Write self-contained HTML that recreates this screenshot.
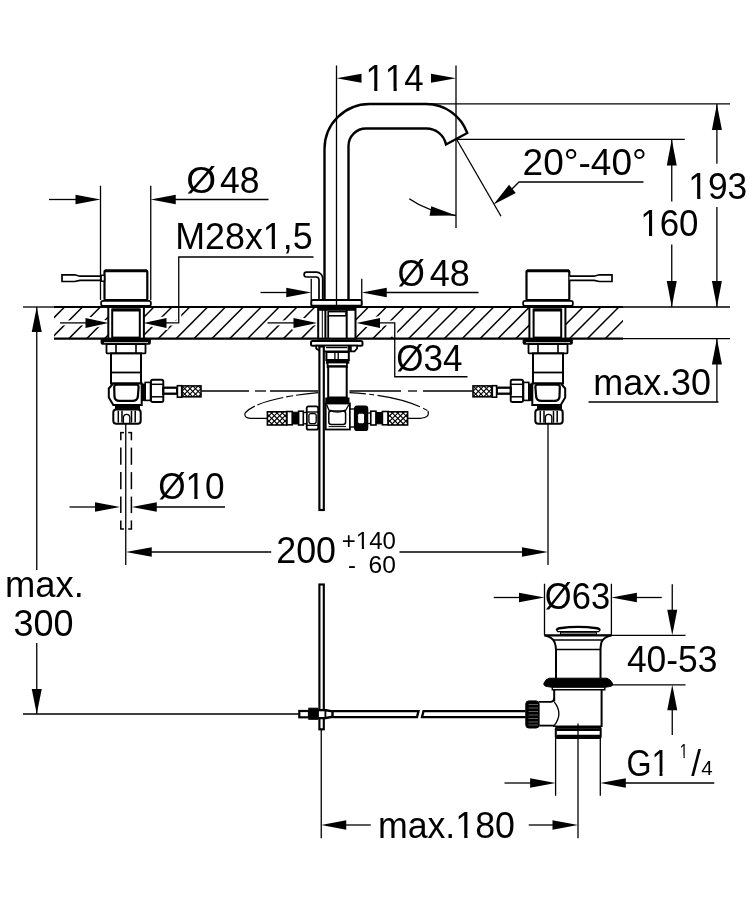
<!DOCTYPE html>
<html><head><meta charset="utf-8"><title>Dimension drawing</title>
<style>
html,body{margin:0;padding:0;background:#fff;}
body{width:751px;height:900px;overflow:hidden;font-family:"Liberation Sans",sans-serif;}
svg{display:block;}
svg line,svg polyline,svg path,svg rect,svg ellipse,svg circle{stroke:#000;}
svg text{font-family:"Liberation Sans",sans-serif;fill:#000;stroke:none;font-kerning:none;}
</style></head><body>
<svg width="751" height="900" viewBox="0 0 751 900">
<rect x="0" y="0" width="751" height="900" fill="#fff" stroke="none" style="stroke:none"/>
<g style="filter:grayscale(1)">
<defs><clipPath id="slabclip"><rect x="54.0" y="307.0" width="569.0" height="31.600000000000023"/></clipPath></defs>
<g clip-path="url(#slabclip)">
<line x1="10.939999999999998" y1="307.0" x2="-20.46" y2="338.6" stroke-width="1.45" />
<line x1="28.82000000000002" y1="307.0" x2="-2.579999999999977" y2="338.6" stroke-width="1.45" />
<line x1="46.70000000000002" y1="307.0" x2="15.300000000000018" y2="338.6" stroke-width="1.45" />
<line x1="64.58000000000001" y1="307.0" x2="33.180000000000014" y2="338.6" stroke-width="1.45" />
<line x1="82.46000000000001" y1="307.0" x2="51.06000000000001" y2="338.6" stroke-width="1.45" />
<line x1="100.34" y1="307.0" x2="68.94" y2="338.6" stroke-width="1.45" />
<line x1="118.22" y1="307.0" x2="86.82" y2="338.6" stroke-width="1.45" />
<line x1="136.10000000000002" y1="307.0" x2="104.70000000000002" y2="338.6" stroke-width="1.45" />
<line x1="153.98000000000002" y1="307.0" x2="122.58000000000001" y2="338.6" stroke-width="1.45" />
<line x1="171.86" y1="307.0" x2="140.46" y2="338.6" stroke-width="1.45" />
<line x1="189.74" y1="307.0" x2="158.34" y2="338.6" stroke-width="1.45" />
<line x1="207.62" y1="307.0" x2="176.22" y2="338.6" stroke-width="1.45" />
<line x1="225.5" y1="307.0" x2="194.1" y2="338.6" stroke-width="1.45" />
<line x1="243.38" y1="307.0" x2="211.98" y2="338.6" stroke-width="1.45" />
<line x1="261.26" y1="307.0" x2="229.85999999999999" y2="338.6" stroke-width="1.45" />
<line x1="279.14" y1="307.0" x2="247.73999999999998" y2="338.6" stroke-width="1.45" />
<line x1="297.02" y1="307.0" x2="265.62" y2="338.6" stroke-width="1.45" />
<line x1="314.9" y1="307.0" x2="283.5" y2="338.6" stroke-width="1.45" />
<line x1="332.78" y1="307.0" x2="301.38" y2="338.6" stroke-width="1.45" />
<line x1="350.65999999999997" y1="307.0" x2="319.26" y2="338.6" stroke-width="1.45" />
<line x1="368.53999999999996" y1="307.0" x2="337.14" y2="338.6" stroke-width="1.45" />
<line x1="386.41999999999996" y1="307.0" x2="355.02" y2="338.6" stroke-width="1.45" />
<line x1="404.29999999999995" y1="307.0" x2="372.9" y2="338.6" stroke-width="1.45" />
<line x1="422.17999999999995" y1="307.0" x2="390.78" y2="338.6" stroke-width="1.45" />
<line x1="440.06" y1="307.0" x2="408.66" y2="338.6" stroke-width="1.45" />
<line x1="457.94" y1="307.0" x2="426.54" y2="338.6" stroke-width="1.45" />
<line x1="475.82" y1="307.0" x2="444.42" y2="338.6" stroke-width="1.45" />
<line x1="493.7" y1="307.0" x2="462.3" y2="338.6" stroke-width="1.45" />
<line x1="511.58" y1="307.0" x2="480.18" y2="338.6" stroke-width="1.45" />
<line x1="529.46" y1="307.0" x2="498.06000000000006" y2="338.6" stroke-width="1.45" />
<line x1="547.3399999999999" y1="307.0" x2="515.9399999999999" y2="338.6" stroke-width="1.45" />
<line x1="565.22" y1="307.0" x2="533.82" y2="338.6" stroke-width="1.45" />
<line x1="583.0999999999999" y1="307.0" x2="551.6999999999999" y2="338.6" stroke-width="1.45" />
<line x1="600.98" y1="307.0" x2="569.58" y2="338.6" stroke-width="1.45" />
<line x1="618.8599999999999" y1="307.0" x2="587.4599999999999" y2="338.6" stroke-width="1.45" />
<line x1="636.74" y1="307.0" x2="605.34" y2="338.6" stroke-width="1.45" />
</g>
<polyline points="60,322.9 86,322.9" fill="none" stroke-width="5" style="stroke:#fff" stroke-linejoin="round"/>
<polyline points="146,322.9 178.75,322.9 178.75,309.2" fill="none" stroke-width="5" style="stroke:#fff" stroke-linejoin="round"/>
<polyline points="267.5,322.9 295,322.9" fill="none" stroke-width="5" style="stroke:#fff" stroke-linejoin="round"/>
<polyline points="357,322.9 394.75,322.9 394.75,337" fill="none" stroke-width="5" style="stroke:#fff" stroke-linejoin="round"/>
<polygon points="108.50,322.90 85.50,327.90 85.50,317.90" fill="#fff" stroke-width="4" style="stroke:#fff" stroke-linejoin="round"/>
<polygon points="143.50,322.90 166.50,317.90 166.50,327.90" fill="#fff" stroke-width="4" style="stroke:#fff" stroke-linejoin="round"/>
<polygon points="317.00,322.90 293.50,327.90 293.50,317.90" fill="#fff" stroke-width="4" style="stroke:#fff" stroke-linejoin="round"/>
<polygon points="356.50,322.90 380.00,317.90 380.00,327.90" fill="#fff" stroke-width="4" style="stroke:#fff" stroke-linejoin="round"/>
<line x1="54.0" y1="307.0" x2="623.0" y2="307.0" stroke-width="2.2" />
<line x1="54.0" y1="338.6" x2="623.0" y2="338.6" stroke-width="2.2" />
<line x1="23" y1="307.0" x2="54.0" y2="307.0" stroke-width="1.3" />
<line x1="623.0" y1="307.0" x2="730" y2="307.0" stroke-width="1.3" />
<line x1="623.0" y1="338.6" x2="730" y2="338.6" stroke-width="1.3" />
<path d="M324.5,300 L324.5,149 A45,45 0 0 1 369.5,104 L426,104 A43.5,43.5 0 0 1 467.25,133 L446,144.5 A20,20 0 0 0 426,128.5 L366,128.5 A17.5,17.5 0 0 0 348.5,146 L348.5,300" stroke-width="2.4" fill="none" />
<rect x="311.25" y="300" width="50.5" height="5.800000000000011" rx="1.5" stroke-width="2" fill="#fff" />
<path d="M306.5,272.2 L316.5,272.2 A6.2,6.2 0 0 1 322.7,278.4 L322.7,300 M306.5,277 L316,277 A3,3 0 0 1 319,280 L319,300 M306.5,272.2 A2.4,2.4 0 0 0 306.5,277" stroke-width="1.7" fill="none" />
<line x1="336.5" y1="65.5" x2="336.5" y2="310" stroke-width="1.3" />
<line x1="456" y1="65.5" x2="456" y2="228" stroke-width="1.3" />
<polygon points="336.50,78.25 361.50,73.65 361.50,82.85" fill="#000" stroke="none"/>
<polygon points="456.00,78.25 431.00,82.85 431.00,73.65" fill="#000" stroke="none"/>
<text x="365.49" y="91.0" font-size="36.8" textLength="58.11" lengthAdjust="spacingAndGlyphs" >114</text>
<rect x="367.02" y="87.65" width="7.18" height="4.15" fill="#fff" style="stroke:none"/>
<rect x="377.37" y="87.65" width="6.99" height="4.15" fill="#fff" style="stroke:none"/>
<rect x="386.39" y="87.65" width="7.18" height="4.15" fill="#fff" style="stroke:none"/>
<rect x="396.75" y="87.65" width="6.99" height="4.15" fill="#fff" style="stroke:none"/>
<line x1="428" y1="103.9" x2="730" y2="103.9" stroke-width="1.3" />
<line x1="457" y1="139.4" x2="684.75" y2="139.4" stroke-width="1.3" />
<line x1="716.9" y1="103.9" x2="716.9" y2="163.75" stroke-width="1.3" />
<line x1="716.9" y1="207" x2="716.9" y2="307" stroke-width="1.3" />
<polygon points="716.90,103.90 721.90,129.90 711.90,129.90" fill="#000" stroke="none"/>
<polygon points="716.90,307.00 711.90,281.00 721.90,281.00" fill="#000" stroke="none"/>
<line x1="671.75" y1="139.4" x2="671.75" y2="201.5" stroke-width="1.3" />
<line x1="671.75" y1="244.5" x2="671.75" y2="307" stroke-width="1.3" />
<polygon points="671.75,139.40 676.75,165.40 666.75,165.40" fill="#000" stroke="none"/>
<polygon points="671.75,307.00 666.75,281.00 676.75,281.00" fill="#000" stroke="none"/>
<text x="688.35" y="199.2" font-size="36.8" textLength="58.89" lengthAdjust="spacingAndGlyphs" >193</text>
<rect x="689.90" y="195.85" width="7.27" height="4.15" fill="#fff" style="stroke:none"/>
<rect x="700.40" y="195.85" width="7.08" height="4.15" fill="#fff" style="stroke:none"/>
<text x="640.29" y="236.2" font-size="36.8" textLength="58.16" lengthAdjust="spacingAndGlyphs" >160</text>
<rect x="641.82" y="232.85" width="7.18" height="4.15" fill="#fff" style="stroke:none"/>
<rect x="652.18" y="232.85" width="7.00" height="4.15" fill="#fff" style="stroke:none"/>
<line x1="457" y1="140" x2="501" y2="216.25" stroke-width="1.3" />
<polyline points="512,189 519,182 643.5,182" stroke-width="1.3" fill="none" />
<polygon points="493.50,204.50 509.07,184.87 515.74,192.97" fill="#000" stroke="none"/>
<text x="522.55" y="175.0" font-size="36.8" textLength="124.27" lengthAdjust="spacingAndGlyphs" >20°-40°</text>
<path d="M409.25,198.75 Q428,212 456,215.5" stroke-width="1.5" fill="none" />
<polygon points="456.00,215.50 429.56,215.71 431.23,206.26" fill="#000" stroke="none"/>
<line x1="716.9" y1="338.6" x2="716.9" y2="402.0" stroke-width="1.3" />
<polygon points="716.90,338.60 721.90,364.60 711.90,364.60" fill="#000" stroke="none"/>
<line x1="588.5" y1="402.0" x2="718.5" y2="402.0" stroke-width="1.3" />
<text x="593.28" y="394.6" font-size="36.8" textLength="117.71" lengthAdjust="spacingAndGlyphs" >max.30</text>
<rect x="104.5" y="270.6" width="42.80000000000001" height="29.399999999999977" rx="1" stroke-width="2.2" fill="#fff" />
<line x1="105" y1="270.9" x2="147" y2="270.9" stroke-width="2.8" />
<rect x="101.1" y="300.9" width="49.80000000000001" height="5.0" rx="2" stroke-width="1.7" fill="#fff" />
<path d="M104.5,276.2 L79.85,276.2 L74.75,274.8 L62,274.8 L62,281.5 L74.75,281.5 L79.85,280.3 L104.5,280.3" stroke-width="1.7" fill="#fff" />
<rect x="101.1" y="275.3" width="3.4000000000000057" height="5.899999999999977" rx="0" stroke-width="1.5" fill="#fff" />
<rect x="526.5" y="270.6" width="42.799999999999955" height="29.399999999999977" rx="1" stroke-width="2.2" fill="#fff" />
<line x1="527" y1="270.9" x2="569" y2="270.9" stroke-width="2.8" />
<rect x="523.1" y="300.9" width="49.799999999999955" height="5.0" rx="2" stroke-width="1.7" fill="#fff" />
<path d="M569.5,276.2 L594.15,276.2 L599.25,274.8 L612,274.8 L612,281.5 L599.25,281.5 L594.15,280.3 L569.5,280.3" stroke-width="1.7" fill="#fff" />
<line x1="100.5" y1="185.75" x2="100.5" y2="300" stroke-width="1.3" />
<line x1="150.75" y1="185.75" x2="150.75" y2="300" stroke-width="1.3" />
<line x1="49" y1="199.5" x2="80" y2="199.5" stroke-width="1.3" />
<polygon points="100.50,199.50 75.50,204.30 75.50,194.70" fill="#000" stroke="none"/>
<polygon points="150.75,199.50 175.75,194.70 175.75,204.30" fill="#000" stroke="none"/>
<line x1="170" y1="199.5" x2="268.5" y2="199.5" stroke-width="1.3" />
<text x="186.16" y="193.3" font-size="36.8" textLength="29.90" lengthAdjust="spacingAndGlyphs" >Ø</text>
<text x="220.10" y="193.3" font-size="36.8" textLength="39.55" lengthAdjust="spacingAndGlyphs" >48</text>
<line x1="60" y1="322.9" x2="90" y2="322.9" stroke-width="1.3" />
<polygon points="108.50,322.90 85.50,327.90 85.50,317.90" fill="#000" stroke="none"/>
<polygon points="143.50,322.90 166.50,317.90 166.50,327.90" fill="#000" stroke="none"/>
<polyline points="160,322.9 178.75,322.9 178.75,257 313.5,257" stroke-width="1.3" fill="none" />
<text x="175.25" y="249.1" font-size="36.8" textLength="137.33" lengthAdjust="spacingAndGlyphs" >M28x1,5</text>
<rect x="264.37" y="245.75" width="7.38" height="4.15" fill="#fff" style="stroke:none"/>
<rect x="275.02" y="245.75" width="7.19" height="4.15" fill="#fff" style="stroke:none"/>
<line x1="311.25" y1="278.75" x2="311.25" y2="300" stroke-width="1.3" />
<line x1="361.75" y1="278.75" x2="361.75" y2="300" stroke-width="1.3" />
<line x1="260.5" y1="292.5" x2="290" y2="292.5" stroke-width="1.3" />
<polygon points="311.25,292.50 286.25,297.30 286.25,287.70" fill="#000" stroke="none"/>
<polygon points="361.75,292.50 386.75,287.70 386.75,297.30" fill="#000" stroke="none"/>
<line x1="380" y1="292.5" x2="478.5" y2="292.5" stroke-width="1.3" />
<text x="397.38" y="286.1" font-size="36.8" textLength="27.36" lengthAdjust="spacingAndGlyphs" >Ø</text>
<text x="429.69" y="286.1" font-size="36.8" textLength="40.19" lengthAdjust="spacingAndGlyphs" >48</text>
<line x1="267.5" y1="322.9" x2="297" y2="322.9" stroke-width="1.3" />
<polygon points="317.00,322.90 293.50,327.90 293.50,317.90" fill="#000" stroke="none"/>
<polygon points="356.50,322.90 380.00,317.90 380.00,327.90" fill="#000" stroke="none"/>
<polyline points="375,322.9 394.75,322.9 394.75,376.75 467.5,376.75" stroke-width="1.3" fill="none" />
<text x="396.29" y="370.9" font-size="36.8" textLength="66.22" lengthAdjust="spacingAndGlyphs" >Ø34</text>
<line x1="36.75" y1="307" x2="36.75" y2="570" stroke-width="1.3" />
<line x1="36.75" y1="643" x2="36.75" y2="714" stroke-width="1.3" />
<polygon points="36.75,307.00 41.75,332.00 31.75,332.00" fill="#000" stroke="none"/>
<polygon points="36.75,714.00 31.75,689.00 41.75,689.00" fill="#000" stroke="none"/>
<line x1="23" y1="714" x2="298.75" y2="714" stroke-width="1.3" />
<text x="4.94" y="596.8" font-size="36.8" textLength="78.84" lengthAdjust="spacingAndGlyphs" >max.</text>
<text x="13.55" y="636.0" font-size="36.8" textLength="59.94" lengthAdjust="spacingAndGlyphs" >300</text>
<line x1="69.5" y1="507.0" x2="100" y2="507.0" stroke-width="1.3" />
<polygon points="120.00,507.00 95.00,511.80 95.00,502.20" fill="#000" stroke="none"/>
<polygon points="131.75,507.00 156.75,502.20 156.75,511.80" fill="#000" stroke="none"/>
<line x1="150" y1="507.0" x2="225" y2="507.0" stroke-width="1.3" />
<text x="158.18" y="498.9" font-size="36.8" textLength="66.48" lengthAdjust="spacingAndGlyphs" >Ø10</text>
<rect x="187.08" y="495.55" width="7.25" height="4.15" fill="#fff" style="stroke:none"/>
<rect x="197.54" y="495.55" width="7.06" height="4.15" fill="#fff" style="stroke:none"/>
<line x1="120.8" y1="432.6" x2="120.8" y2="440.3" stroke-width="1.5" />
<line x1="120.8" y1="447.6" x2="120.8" y2="464.8" stroke-width="1.5" />
<line x1="120.8" y1="472.1" x2="120.8" y2="489.2" stroke-width="1.5" />
<line x1="120.8" y1="496.6" x2="120.8" y2="513.1" stroke-width="1.5" />
<line x1="120.8" y1="520.4" x2="120.8" y2="529" stroke-width="1.5" />
<line x1="131.4" y1="432.6" x2="131.4" y2="440.3" stroke-width="1.5" />
<line x1="131.4" y1="447.6" x2="131.4" y2="464.8" stroke-width="1.5" />
<line x1="131.4" y1="472.1" x2="131.4" y2="489.2" stroke-width="1.5" />
<line x1="131.4" y1="496.6" x2="131.4" y2="513.1" stroke-width="1.5" />
<line x1="131.4" y1="520.4" x2="131.4" y2="529" stroke-width="1.5" />
<line x1="120.1" y1="432.6" x2="124" y2="432.6" stroke-width="1.5" />
<line x1="128.2" y1="432.6" x2="132.1" y2="432.6" stroke-width="1.5" />
<line x1="120.1" y1="529" x2="124" y2="529" stroke-width="1.5" />
<line x1="128.2" y1="529" x2="132.1" y2="529" stroke-width="1.5" />
<line x1="125.75" y1="423" x2="125.75" y2="565" stroke-width="1.3" />
<line x1="548" y1="423" x2="548" y2="565" stroke-width="1.3" />
<polygon points="125.75,552.00 151.75,547.20 151.75,556.80" fill="#000" stroke="none"/>
<line x1="145" y1="552.0" x2="271.25" y2="552.0" stroke-width="1.3" />
<line x1="399.5" y1="552.0" x2="530" y2="552.0" stroke-width="1.3" />
<polygon points="548.00,552.00 522.00,556.80 522.00,547.20" fill="#000" stroke="none"/>
<text x="276.21" y="563.4" font-size="36.8" textLength="59.78" lengthAdjust="spacingAndGlyphs" >200</text>
<text x="341.80" y="548.7" font-size="23.2" textLength="54.13" lengthAdjust="spacingAndGlyphs" >+140</text>
<rect x="356.89" y="546.37" width="4.95" height="3.13" fill="#fff" style="stroke:none"/>
<rect x="364.03" y="546.37" width="4.82" height="3.13" fill="#fff" style="stroke:none"/>
<text x="348.02" y="572.5" font-size="23.2" textLength="7.96" lengthAdjust="spacingAndGlyphs" >-</text>
<text x="368.57" y="572.5" font-size="23.2" textLength="27.38" lengthAdjust="spacingAndGlyphs" >60</text>
<rect x="108.3" y="307.0" width="35.60000000000001" height="31.600000000000023" rx="0" stroke-width="2.0" fill="#fff" />
<rect x="112.2" y="309.5" width="27.60000000000001" height="28.100000000000023" rx="0" stroke-width="2.0" fill="#fff" />
<line x1="112.2" y1="310.0" x2="139.8" y2="310.0" stroke-width="3.0" />
<rect x="101.5" y="339.2" width="48.5" height="4.600000000000023" rx="1" stroke-width="1.8" fill="#000" />
<line x1="104" y1="342.6" x2="148" y2="342.6" stroke-width="0.8" style="stroke:#fff"/>
<rect x="106.5" y="344" width="39.0" height="9.399999999999977" rx="1" stroke-width="1.8" fill="#fff" />
<line x1="116" y1="344" x2="116" y2="353.4" stroke-width="1.6" />
<line x1="136" y1="344" x2="136" y2="353.4" stroke-width="1.6" />
<rect x="111" y="353.4" width="30" height="30.100000000000023" rx="0" stroke-width="2.0" fill="#fff" />
<line x1="111" y1="372.5" x2="141" y2="372.5" stroke-width="1.8" />
<path d="M113.3,383.4 L141.7,383.4 L141.7,404.9 L113.3,404.9 L108.8,397.5 L108.8,388.5 Z" stroke-width="2.0" fill="#fff" />
<path d="M116.8,384.6 L136.5,384.6 Q138.6,384.6 138.6,387 L137.8,397 Q137.2,400.8 132.5,400.8 L119.5,400.8 Q115,400.8 114.5,397 L114.2,387 Q114.2,384.6 116.8,384.6 Z" stroke-width="2.2" fill="none" />
<rect x="141.7" y="384" width="2.700000000000017" height="16.600000000000023" rx="0" stroke-width="1" fill="#000" />
<rect x="145.2" y="382.4" width="5.300000000000011" height="18.0" rx="0" stroke-width="1.6" fill="#fff" />
<rect x="151" y="379.8" width="12.300000000000011" height="22.19999999999999" rx="1.8" stroke-width="1.9" fill="#fff" />
<line x1="151" y1="384.3" x2="163.3" y2="384.3" stroke-width="1.5" />
<line x1="151" y1="396.8" x2="163.3" y2="396.8" stroke-width="1.5" />
<rect x="163.3" y="387.7" width="13.899999999999977" height="6.0" rx="0" stroke-width="2.3" fill="#fff" />
<rect x="177.4" y="385.7" width="4.299999999999983" height="11.5" rx="0" stroke-width="1.6" fill="#fff" />
<defs><clipPath id="b182"><rect x="182" y="385.9" width="19" height="10.900000000000034"/></clipPath></defs>
<g clip-path="url(#b182)">
<line x1="171.09999999999997" y1="385.9" x2="182.0" y2="396.8" stroke-width="1.15" />
<line x1="182.0" y1="385.9" x2="171.09999999999997" y2="396.8" stroke-width="1.15" />
<line x1="176.49999999999997" y1="385.9" x2="187.4" y2="396.8" stroke-width="1.15" />
<line x1="187.4" y1="385.9" x2="176.49999999999997" y2="396.8" stroke-width="1.15" />
<line x1="181.89999999999998" y1="385.9" x2="192.8" y2="396.8" stroke-width="1.15" />
<line x1="192.8" y1="385.9" x2="181.89999999999998" y2="396.8" stroke-width="1.15" />
<line x1="187.29999999999998" y1="385.9" x2="198.20000000000002" y2="396.8" stroke-width="1.15" />
<line x1="198.20000000000002" y1="385.9" x2="187.29999999999998" y2="396.8" stroke-width="1.15" />
<line x1="192.7" y1="385.9" x2="203.60000000000002" y2="396.8" stroke-width="1.15" />
<line x1="203.60000000000002" y1="385.9" x2="192.7" y2="396.8" stroke-width="1.15" />
<line x1="198.1" y1="385.9" x2="209.00000000000003" y2="396.8" stroke-width="1.15" />
<line x1="209.00000000000003" y1="385.9" x2="198.1" y2="396.8" stroke-width="1.15" />
<line x1="203.5" y1="385.9" x2="214.40000000000003" y2="396.8" stroke-width="1.15" />
<line x1="214.40000000000003" y1="385.9" x2="203.5" y2="396.8" stroke-width="1.15" />
<line x1="208.9" y1="385.9" x2="219.80000000000004" y2="396.8" stroke-width="1.15" />
<line x1="219.80000000000004" y1="385.9" x2="208.9" y2="396.8" stroke-width="1.15" />
</g>
<rect x="182" y="385.9" width="19" height="10.900000000000034" rx="0" stroke-width="1.6" fill="none" />
<rect x="115.5" y="405.4" width="24.0" height="3.400000000000034" rx="0" stroke-width="1" fill="#000" />
<rect x="113.3" y="409.6" width="27.39999999999999" height="14.199999999999989" rx="3" stroke-width="2.0" fill="#fff" />
<line x1="118.3" y1="410.8" x2="118.3" y2="422.6" stroke-width="1.5" />
<line x1="122" y1="410.8" x2="122" y2="422.6" stroke-width="1.5" />
<line x1="131.5" y1="410.8" x2="131.5" y2="422.6" stroke-width="1.5" />
<line x1="135.2" y1="410.8" x2="135.2" y2="422.6" stroke-width="1.5" />
<path d="M123.4,423 L123.4,417.5 A3.2,3.2 0 0 1 129.8,417.5 L129.8,423" stroke-width="1.3" fill="none" />
<rect x="529.4" y="307.0" width="36.0" height="31.600000000000023" rx="0" stroke-width="2.0" fill="#fff" />
<rect x="533.6" y="309.5" width="27.59999999999991" height="28.100000000000023" rx="0" stroke-width="2.0" fill="#fff" />
<line x1="533.6" y1="310.0" x2="561.1999999999999" y2="310.0" stroke-width="3.0" />
<rect x="523.5" y="339.2" width="48.5" height="4.600000000000023" rx="1" stroke-width="1.8" fill="#000" />
<line x1="526" y1="342.6" x2="570" y2="342.6" stroke-width="0.8" style="stroke:#fff"/>
<rect x="528.5" y="344" width="39.0" height="9.399999999999977" rx="1" stroke-width="1.8" fill="#fff" />
<line x1="538" y1="344" x2="538" y2="353.4" stroke-width="1.6" />
<line x1="558" y1="344" x2="558" y2="353.4" stroke-width="1.6" />
<rect x="533" y="353.4" width="30" height="30.100000000000023" rx="0" stroke-width="2.0" fill="#fff" />
<line x1="533" y1="372.5" x2="563" y2="372.5" stroke-width="1.8" />
<path d="M560.7,383.4 L532.3,383.4 L532.3,404.9 L560.7,404.9 L565.2,397.5 L565.2,388.5 Z" stroke-width="2.0" fill="#fff" />
<path d="M557.2,384.6 L537.5,384.6 Q535.4,384.6 535.4,387 L536.2,397 Q536.8,400.8 541.5,400.8 L554.5,400.8 Q559,400.8 559.5,397 L559.8,387 Q559.8,384.6 557.2,384.6 Z" stroke-width="2.2" fill="none" />
<rect x="529.6" y="384" width="2.699999999999932" height="16.600000000000023" rx="0" stroke-width="1" fill="#000" />
<rect x="523.5" y="382.4" width="5.2999999999999545" height="18.0" rx="0" stroke-width="1.6" fill="#fff" />
<rect x="510.7" y="379.8" width="12.300000000000011" height="22.19999999999999" rx="1.8" stroke-width="1.9" fill="#fff" />
<line x1="523" y1="384.3" x2="510.7" y2="384.3" stroke-width="1.5" />
<line x1="523" y1="396.8" x2="510.7" y2="396.8" stroke-width="1.5" />
<rect x="496.8" y="387.7" width="13.899999999999977" height="6.0" rx="0" stroke-width="2.3" fill="#fff" />
<rect x="492.3" y="385.7" width="4.300000000000011" height="11.5" rx="0" stroke-width="1.6" fill="#fff" />
<defs><clipPath id="b473"><rect x="473" y="385.9" width="19" height="10.900000000000034"/></clipPath></defs>
<g clip-path="url(#b473)">
<line x1="462.09999999999997" y1="385.9" x2="473.0" y2="396.8" stroke-width="1.15" />
<line x1="473.0" y1="385.9" x2="462.09999999999997" y2="396.8" stroke-width="1.15" />
<line x1="467.49999999999994" y1="385.9" x2="478.4" y2="396.8" stroke-width="1.15" />
<line x1="478.4" y1="385.9" x2="467.49999999999994" y2="396.8" stroke-width="1.15" />
<line x1="472.8999999999999" y1="385.9" x2="483.79999999999995" y2="396.8" stroke-width="1.15" />
<line x1="483.79999999999995" y1="385.9" x2="472.8999999999999" y2="396.8" stroke-width="1.15" />
<line x1="478.2999999999999" y1="385.9" x2="489.19999999999993" y2="396.8" stroke-width="1.15" />
<line x1="489.19999999999993" y1="385.9" x2="478.2999999999999" y2="396.8" stroke-width="1.15" />
<line x1="483.6999999999999" y1="385.9" x2="494.5999999999999" y2="396.8" stroke-width="1.15" />
<line x1="494.5999999999999" y1="385.9" x2="483.6999999999999" y2="396.8" stroke-width="1.15" />
<line x1="489.09999999999985" y1="385.9" x2="499.9999999999999" y2="396.8" stroke-width="1.15" />
<line x1="499.9999999999999" y1="385.9" x2="489.09999999999985" y2="396.8" stroke-width="1.15" />
<line x1="494.49999999999983" y1="385.9" x2="505.39999999999986" y2="396.8" stroke-width="1.15" />
<line x1="505.39999999999986" y1="385.9" x2="494.49999999999983" y2="396.8" stroke-width="1.15" />
<line x1="499.8999999999998" y1="385.9" x2="510.79999999999984" y2="396.8" stroke-width="1.15" />
<line x1="510.79999999999984" y1="385.9" x2="499.8999999999998" y2="396.8" stroke-width="1.15" />
</g>
<rect x="473" y="385.9" width="19" height="10.900000000000034" rx="0" stroke-width="1.6" fill="none" />
<rect x="537.5" y="405.4" width="24.0" height="3.400000000000034" rx="0" stroke-width="1" fill="#000" />
<rect x="535.3" y="409.6" width="27.40000000000009" height="14.199999999999989" rx="3" stroke-width="2.0" fill="#fff" />
<line x1="540.3" y1="410.8" x2="540.3" y2="422.6" stroke-width="1.5" />
<line x1="544" y1="410.8" x2="544" y2="422.6" stroke-width="1.5" />
<line x1="553.5" y1="410.8" x2="553.5" y2="422.6" stroke-width="1.5" />
<line x1="557.2" y1="410.8" x2="557.2" y2="422.6" stroke-width="1.5" />
<path d="M545.4,423 L545.4,417.5 A3.2,3.2 0 0 1 551.8,417.5 L551.8,423" stroke-width="1.3" fill="none" />
<rect x="318.2" y="307.0" width="37.30000000000001" height="31.600000000000023" rx="0" stroke-width="2.0" fill="#fff" />
<rect x="318.2" y="307.0" width="37.30000000000001" height="3.1999999999999886" rx="0" stroke-width="1" fill="#000" />
<line x1="322.3" y1="310" x2="322.3" y2="338.6" stroke-width="1.0" />
<line x1="325.4" y1="310" x2="325.4" y2="338.6" stroke-width="2.0" />
<line x1="346.7" y1="310" x2="346.7" y2="338.6" stroke-width="2.0" />
<rect x="328.2" y="311.6" width="17.80000000000001" height="4.199999999999989" rx="0" stroke-width="1.6" fill="#fff" />
<line x1="328.2" y1="315.8" x2="328.2" y2="338.6" stroke-width="1.8" />
<rect x="311" y="340.9" width="51.5" height="4.800000000000011" rx="1.5" stroke-width="2.0" fill="#fff" />
<path d="M316.2,345.7 L357.1,345.7 L357.1,348.5 L354.5,351.3 L320.4,351.3 L316.2,348.5 Z" stroke-width="1.8" fill="#fff" />
<line x1="326" y1="347.6" x2="347.3" y2="347.6" stroke-width="1.2" />
<rect x="348.2" y="346.5" width="3.0" height="4.300000000000011" rx="0" stroke-width="1" fill="#000" />
<rect x="326.4" y="352" width="22.400000000000034" height="8" rx="0" stroke-width="2.0" fill="#fff" />
<line x1="334.9" y1="352" x2="334.9" y2="360" stroke-width="1.3" />
<line x1="338.2" y1="352" x2="338.2" y2="360" stroke-width="1.3" />
<rect x="326.4" y="360" width="22.400000000000034" height="3.1999999999999886" rx="0" stroke-width="1" fill="#000" />
<rect x="327.6" y="362.5" width="19.299999999999955" height="4.699999999999989" rx="0" stroke-width="1.8" fill="#fff" />
<line x1="328" y1="366.4" x2="346.6" y2="366.4" stroke-width="2.2" />
<rect x="328.2" y="366.6" width="18.5" height="30.899999999999977" rx="0" stroke-width="2.0" fill="#fff" />
<rect x="325.8" y="398" width="23.19999999999999" height="5.5" rx="0" stroke-width="1" fill="#000" />
<rect x="325.7" y="403.5" width="24.19999999999999" height="26.0" rx="0" stroke-width="1.8" fill="#fff" />
<rect x="328.8" y="411" width="16.80000000000001" height="13.5" rx="2.5" stroke-width="1.5" fill="#fff" />
<line x1="326.6" y1="404.5" x2="329.5" y2="411.5" stroke-width="1.3" />
<line x1="349" y1="404.5" x2="345" y2="411.5" stroke-width="1.3" />
<path d="M329.5,410 Q337.5,414.5 345.3,410" stroke-width="1.2" fill="none" />
<line x1="328.5" y1="426.6" x2="346" y2="426.6" stroke-width="1.0" />
<rect x="306.7" y="406.4" width="11.5" height="23.30000000000001" rx="2" stroke-width="1.8" fill="#fff" />
<line x1="306.7" y1="412" x2="318.2" y2="412" stroke-width="1.4" />
<line x1="306.7" y1="425.3" x2="318.2" y2="425.3" stroke-width="1.4" />
<rect x="308.9" y="413.6" width="7.300000000000011" height="10.0" rx="2" stroke-width="1.3" fill="#fff" />
<rect x="303" y="412.5" width="3.6999999999999886" height="11.300000000000011" rx="0" stroke-width="1.3" fill="#fff" />
<rect x="298.6" y="411.2" width="4.699999999999989" height="13.800000000000011" rx="0" stroke-width="1.6" fill="#fff" />
<rect x="292.2" y="412.2" width="6.400000000000034" height="11.800000000000011" rx="0" stroke-width="1" fill="#000" />
<rect x="286.7" y="411.5" width="5.5" height="13.300000000000011" rx="0" stroke-width="1.6" fill="#fff" />
<defs><clipPath id="b267"><rect x="267.4" y="411.8" width="19.30000000000001" height="13.199999999999989"/></clipPath></defs>
<g clip-path="url(#b267)">
<line x1="254.2" y1="411.8" x2="267.4" y2="425" stroke-width="1.15" />
<line x1="267.4" y1="411.8" x2="254.2" y2="425" stroke-width="1.15" />
<line x1="259.59999999999997" y1="411.8" x2="272.79999999999995" y2="425" stroke-width="1.15" />
<line x1="272.79999999999995" y1="411.8" x2="259.59999999999997" y2="425" stroke-width="1.15" />
<line x1="264.99999999999994" y1="411.8" x2="278.19999999999993" y2="425" stroke-width="1.15" />
<line x1="278.19999999999993" y1="411.8" x2="264.99999999999994" y2="425" stroke-width="1.15" />
<line x1="270.3999999999999" y1="411.8" x2="283.5999999999999" y2="425" stroke-width="1.15" />
<line x1="283.5999999999999" y1="411.8" x2="270.3999999999999" y2="425" stroke-width="1.15" />
<line x1="275.7999999999999" y1="411.8" x2="288.9999999999999" y2="425" stroke-width="1.15" />
<line x1="288.9999999999999" y1="411.8" x2="275.7999999999999" y2="425" stroke-width="1.15" />
<line x1="281.1999999999999" y1="411.8" x2="294.39999999999986" y2="425" stroke-width="1.15" />
<line x1="294.39999999999986" y1="411.8" x2="281.1999999999999" y2="425" stroke-width="1.15" />
<line x1="286.59999999999985" y1="411.8" x2="299.79999999999984" y2="425" stroke-width="1.15" />
<line x1="299.79999999999984" y1="411.8" x2="286.59999999999985" y2="425" stroke-width="1.15" />
<line x1="291.99999999999983" y1="411.8" x2="305.1999999999998" y2="425" stroke-width="1.15" />
<line x1="305.1999999999998" y1="411.8" x2="291.99999999999983" y2="425" stroke-width="1.15" />
<line x1="297.3999999999998" y1="411.8" x2="310.5999999999998" y2="425" stroke-width="1.15" />
<line x1="310.5999999999998" y1="411.8" x2="297.3999999999998" y2="425" stroke-width="1.15" />
</g>
<rect x="267.4" y="411.8" width="19.30000000000001" height="13.199999999999989" rx="0" stroke-width="1.6" fill="none" />
<rect x="350" y="409" width="4.600000000000023" height="18" rx="0" stroke-width="1.4" fill="#fff" />
<rect x="354.8" y="406.2" width="12.800000000000011" height="24.19999999999999" rx="2.5" stroke-width="1.4" fill="#000" />
<rect x="357.6" y="413.2" width="7.0" height="10.600000000000023" rx="2" stroke-width="1" fill="#fff" />
<rect x="367.6" y="413" width="3.1999999999999886" height="10.5" rx="0" stroke-width="1.3" fill="#fff" />
<rect x="370.8" y="411.2" width="5.199999999999989" height="13.800000000000011" rx="0" stroke-width="1.6" fill="#fff" />
<rect x="376" y="412.5" width="5.800000000000011" height="11.300000000000011" rx="0" stroke-width="1" fill="#000" />
<rect x="382.4" y="411.5" width="5.800000000000011" height="13.300000000000011" rx="0" stroke-width="1.6" fill="#fff" />
<defs><clipPath id="b388"><rect x="388.2" y="411.8" width="19.400000000000034" height="13.199999999999989"/></clipPath></defs>
<g clip-path="url(#b388)">
<line x1="375.0" y1="411.8" x2="388.2" y2="425" stroke-width="1.15" />
<line x1="388.2" y1="411.8" x2="375.0" y2="425" stroke-width="1.15" />
<line x1="380.4" y1="411.8" x2="393.59999999999997" y2="425" stroke-width="1.15" />
<line x1="393.59999999999997" y1="411.8" x2="380.4" y2="425" stroke-width="1.15" />
<line x1="385.79999999999995" y1="411.8" x2="398.99999999999994" y2="425" stroke-width="1.15" />
<line x1="398.99999999999994" y1="411.8" x2="385.79999999999995" y2="425" stroke-width="1.15" />
<line x1="391.19999999999993" y1="411.8" x2="404.3999999999999" y2="425" stroke-width="1.15" />
<line x1="404.3999999999999" y1="411.8" x2="391.19999999999993" y2="425" stroke-width="1.15" />
<line x1="396.5999999999999" y1="411.8" x2="409.7999999999999" y2="425" stroke-width="1.15" />
<line x1="409.7999999999999" y1="411.8" x2="396.5999999999999" y2="425" stroke-width="1.15" />
<line x1="401.9999999999999" y1="411.8" x2="415.1999999999999" y2="425" stroke-width="1.15" />
<line x1="415.1999999999999" y1="411.8" x2="401.9999999999999" y2="425" stroke-width="1.15" />
<line x1="407.39999999999986" y1="411.8" x2="420.59999999999985" y2="425" stroke-width="1.15" />
<line x1="420.59999999999985" y1="411.8" x2="407.39999999999986" y2="425" stroke-width="1.15" />
<line x1="412.79999999999984" y1="411.8" x2="425.99999999999983" y2="425" stroke-width="1.15" />
<line x1="425.99999999999983" y1="411.8" x2="412.79999999999984" y2="425" stroke-width="1.15" />
<line x1="418.1999999999998" y1="411.8" x2="431.3999999999998" y2="425" stroke-width="1.15" />
<line x1="431.3999999999998" y1="411.8" x2="418.1999999999998" y2="425" stroke-width="1.15" />
</g>
<rect x="388.2" y="411.8" width="19.400000000000034" height="13.199999999999989" rx="0" stroke-width="1.6" fill="none" />
<rect x="319.4" y="346.5" width="4.400000000000034" height="163.5" rx="0" stroke-width="2.15" fill="#fff" />
<rect x="319.4" y="584.5" width="4.400000000000034" height="144.79999999999995" rx="0" stroke-width="2.15" fill="#fff" />
<line x1="201.5" y1="391" x2="249" y2="391" stroke-width="1.3" />
<line x1="255" y1="391" x2="266" y2="391" stroke-width="1.3" />
<line x1="270" y1="391" x2="318.2" y2="391" stroke-width="1.3" />
<line x1="349.5" y1="391" x2="401" y2="391" stroke-width="1.3" />
<line x1="408" y1="391" x2="417" y2="391" stroke-width="1.3" />
<line x1="423" y1="391" x2="472.5" y2="391" stroke-width="1.3" />
<path d="M245,413 Q258,398.5 318.2,392.6" stroke-width="1.15" fill="none" stroke-dasharray="12 3 27 3 7 3 40"/>
<path d="M349.5,392.6 Q402,395.5 428,411" stroke-width="1.15" fill="none" stroke-dasharray="16 3.5 5 3.5 44 3.5 5 3.5 20"/>
<path d="M245,413 Q244,418.3 250.5,418.3 L267.4,418.3" stroke-width="1.15" fill="none" />
<path d="M428,411 Q430,417.8 421,418.3 L407.6,418.3" stroke-width="1.15" fill="none" />
<line x1="321.25" y1="729" x2="321.25" y2="838.25" stroke-width="1.3" />
<path d="M332.5,711.1 L418.5,711.1 L417,717.1 L332.5,717.1" stroke-width="2.3" fill="#fff" />
<path d="M525.5,711.1 L423.5,711.1 L422,717.1 L525.5,717.1" stroke-width="2.3" fill="#fff" />
<rect x="299.3" y="711" width="9.699999999999989" height="6.2999999999999545" rx="0" stroke-width="2.2" fill="#fff" />
<rect x="308.8" y="708.2" width="8.699999999999989" height="11.099999999999909" rx="0" stroke-width="1" fill="#000" />
<path d="M317.5,710.3 L326,710.3 L332.5,711.4 L332.5,716.8 L326,718 L317.5,718 Z" stroke-width="2.4" fill="#fff" />
<rect x="318" y="710.4" width="7.399999999999977" height="7.5" rx="0" stroke-width="1.8" fill="#fff" />
<line x1="544.5" y1="583.75" x2="544.5" y2="635.3" stroke-width="1.3" />
<line x1="611.4" y1="583.75" x2="611.4" y2="635.3" stroke-width="1.3" />
<line x1="493.75" y1="597.5" x2="520" y2="597.5" stroke-width="1.3" />
<polygon points="544.50,597.50 519.00,602.30 519.00,592.70" fill="#000" stroke="none"/>
<polygon points="611.40,597.50 636.90,592.70 636.90,602.30" fill="#000" stroke="none"/>
<line x1="630" y1="597.5" x2="661.75" y2="597.5" stroke-width="1.3" />
<text x="544.80" y="608.7" font-size="36.8" textLength="65.30" lengthAdjust="spacingAndGlyphs" >Ø63</text>
<line x1="600" y1="635.3" x2="685.5" y2="635.3" stroke-width="1.3" />
<line x1="610.5" y1="684.8" x2="685.5" y2="684.8" stroke-width="1.3" />
<line x1="672.25" y1="584.25" x2="672.25" y2="615" stroke-width="1.3" />
<polygon points="672.25,635.30 667.25,609.80 677.25,609.80" fill="#000" stroke="none"/>
<polygon points="672.25,684.80 677.25,710.30 667.25,710.30" fill="#000" stroke="none"/>
<line x1="672.25" y1="705" x2="672.25" y2="735" stroke-width="1.3" />
<text x="626.90" y="672.4" font-size="36.8" textLength="90.65" lengthAdjust="spacingAndGlyphs" >40-53</text>
<path d="M557.6,631.7 Q555.8,628.9 559.5,628.4 Q578,625.6 597,628.4 Q600.6,628.9 598.9,631.7 Z" stroke-width="1.2" fill="#fff" />
<path d="M557.2,630.2 Q556.2,628.9 559.5,628.3 Q578,625.5 597,628.3 Q600.2,628.9 599.3,630.2" stroke-width="2.4" fill="none" />
<rect x="560.5" y="632.2" width="36.0" height="2.3999999999999773" rx="0" stroke-width="1.0" fill="#888" />
<path d="M544.5,635.3 L611.4,635.3" stroke-width="2.2" fill="none" />
<path d="M544.5,635.3 Q552,637 554.5,642 Q556,646 556,650 L556,678.3" stroke-width="2.0" fill="none" />
<path d="M611.4,635.3 Q604,637 601.5,642 Q600.5,646 600.5,650 L600.5,678.3" stroke-width="2.0" fill="none" />
<line x1="553.5" y1="640" x2="603" y2="640" stroke-width="1.4" />
<line x1="556" y1="649.5" x2="600.5" y2="649.5" stroke-width="1.4" />
<path d="M549,678.2 L607,678.2 Q610.5,679.5 612.3,683 Q613.6,686 609.5,686.6 L605,687.3 L552,687.3 L547.5,686.6 Q543,686 544,683 Q545.5,679.5 549,678.2 Z" stroke-width="1" fill="#000" />
<path d="M552.3,687.3 L552.3,689.7 L604.8,689.7 L604.8,687.3" stroke-width="1.4" fill="none" />
<path d="M554.2,690 L554.2,701.5 M554.2,725.7 L554.2,727 M601.6,690 L601.6,727" stroke-width="2.0" fill="none" />
<line x1="554.2" y1="726.2" x2="601.6" y2="726.2" stroke-width="1.6" />
<path d="M539.1,701.8 L551,701.8 Q554.2,701.5 554.2,698" stroke-width="1.8" fill="none" />
<line x1="539.1" y1="725.6" x2="554.2" y2="725.6" stroke-width="1.8" />
<path d="M554.2,701.8 Q563.5,713.5 554.2,725.6" stroke-width="1.3" fill="none" />
<rect x="525.8" y="700.9" width="13.300000000000068" height="27.100000000000023" rx="3" stroke-width="1" fill="#000" />
<line x1="528.5" y1="704.5" x2="538" y2="704.5" stroke-width="0.7" style="stroke:#888"/>
<line x1="528.5" y1="708" x2="538" y2="708" stroke-width="0.7" style="stroke:#888"/>
<line x1="528.5" y1="711.5" x2="538" y2="711.5" stroke-width="0.7" style="stroke:#888"/>
<line x1="528.5" y1="715" x2="538" y2="715" stroke-width="0.7" style="stroke:#888"/>
<line x1="528.5" y1="718.5" x2="538" y2="718.5" stroke-width="0.7" style="stroke:#888"/>
<line x1="528.5" y1="722" x2="538" y2="722" stroke-width="0.7" style="stroke:#888"/>
<line x1="528.5" y1="725" x2="538" y2="725" stroke-width="0.7" style="stroke:#888"/>
<rect x="555.8" y="727.5" width="44.90000000000009" height="10.5" rx="1.5" stroke-width="2.0" fill="#fff" />
<line x1="556.5" y1="729.6" x2="600" y2="729.6" stroke-width="2.8" />
<line x1="556.5" y1="736.1" x2="600" y2="736.1" stroke-width="2.8" />
<line x1="578" y1="723.5" x2="578" y2="838.25" stroke-width="1.3" />
<line x1="555.6" y1="738" x2="555.6" y2="795.75" stroke-width="1.3" />
<line x1="600.3" y1="738" x2="600.3" y2="795.75" stroke-width="1.3" />
<line x1="504.5" y1="783" x2="532" y2="783" stroke-width="1.3" />
<polygon points="555.60,783.00 530.10,787.80 530.10,778.20" fill="#000" stroke="none"/>
<polygon points="600.30,783.00 625.80,778.20 625.80,787.80" fill="#000" stroke="none"/>
<line x1="620" y1="783" x2="714.25" y2="783" stroke-width="1.3" />
<text x="626.39" y="775.5" font-size="36.8" textLength="42.98" lengthAdjust="spacingAndGlyphs" >G1</text>
<rect x="652.87" y="772.15" width="6.64" height="4.15" fill="#fff" style="stroke:none"/>
<rect x="662.45" y="772.15" width="6.47" height="4.15" fill="#fff" style="stroke:none"/>
<text x="679.81" y="758" font-size="21" textLength="8.10" lengthAdjust="spacingAndGlyphs" >1</text>
<rect x="680.45" y="755.83" width="3.00" height="2.97" fill="#fff" style="stroke:none"/>
<rect x="684.78" y="755.83" width="2.92" height="2.97" fill="#fff" style="stroke:none"/>
<text x="691.30" y="776" font-size="36.8" textLength="9.71" lengthAdjust="spacingAndGlyphs" >/</text>
<text x="701.24" y="775.2" font-size="21" textLength="11.45" lengthAdjust="spacingAndGlyphs" >4</text>
<polygon points="321.25,825.00 346.25,820.20 346.25,829.80" fill="#000" stroke="none"/>
<line x1="340" y1="825" x2="370.75" y2="825" stroke-width="1.3" />
<line x1="528.75" y1="825" x2="556" y2="825" stroke-width="1.3" />
<polygon points="578.00,825.00 552.50,829.80 552.50,820.20" fill="#000" stroke="none"/>
<text x="377.89" y="837.7" font-size="36.8" textLength="136.99" lengthAdjust="spacingAndGlyphs" >max.180</text>
<rect x="456.86" y="834.35" width="7.36" height="4.15" fill="#fff" style="stroke:none"/>
<rect x="467.48" y="834.35" width="7.17" height="4.15" fill="#fff" style="stroke:none"/>
</g>
</svg>
</body></html>
